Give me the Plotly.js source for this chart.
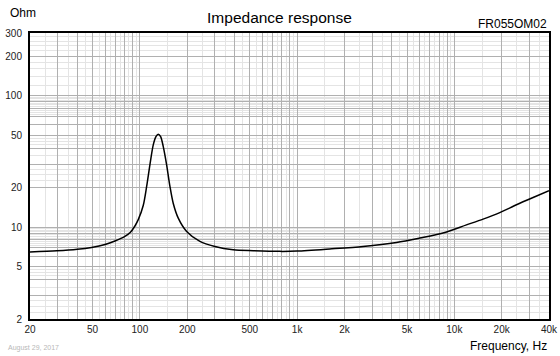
<!DOCTYPE html>
<html>
<head>
<meta charset="utf-8">
<script src="https://cdn.plot.ly/plotly-3.0.1.min.js"></script>
<style>
  html, body { margin: 0; padding: 0; background: #fff; }
  #chart { width: 560px; height: 356px; }
</style>
</head>
<body>
<div id="chart"></div>
<script>
// ---- data ----
var freqHz = [20, 29.6, 40, 49.3, 60, 69.4, 80.3, 86.8, 93, 97.6, 105, 110.4, 115.8, 121.6, 126.5, 130.8, 135.5, 140.8, 147.9, 155.3, 162.9, 175.4, 198.3, 240.9, 300, 392, 526, 776, 1000, 1615, 2630, 4287, 6026, 8474, 11940, 15230, 19450, 24840, 31700, 40000];
var impedanceOhm = [6.47, 6.6, 6.78, 7.01, 7.38, 7.85, 8.5, 9.1, 10.2, 11.4, 14.6, 20.4, 29.8, 42.3, 48.9, 51, 48.9, 41, 29.8, 20.4, 15.2, 11.7, 9.27, 7.79, 7.13, 6.73, 6.62, 6.54, 6.57, 6.82, 7.13, 7.65, 8.26, 9.02, 10.4, 11.5, 12.9, 14.8, 16.8, 18.9];

var xTickVals = [20, 30, 40, 50, 60, 70, 80, 90, 100, 200, 300, 400, 500, 600, 700, 800, 900, 1000, 2000, 3000, 4000, 5000, 6000, 7000, 8000, 9000, 10000, 20000, 30000, 40000];
var xTickText = ['20', '', '', '50', '', '', '', '', '100', '200', '', '', '500', '', '', '', '', '1k', '2k', '', '', '5k', '', '', '', '', '10k', '20k', '', '40k'];
var xMinorVals = [25, 35, 45, 55, 65, 75, 85, 95, 150, 250, 350, 450, 550, 650, 750, 850, 950, 1500, 2500, 3500, 4500, 5500, 6500, 7500, 8500, 9500, 15000, 25000, 35000];

var yTickVals = [2, 3, 4, 5, 6, 7, 8, 9, 10, 20, 30, 40, 50, 60, 70, 80, 90, 100, 200, 300];
var yTickText = ['2', '', '', '5', '', '', '', '', '10', '20', '', '', '50', '', '', '', '', '100', '200', '300'];
var yMinorVals = [2.25, 2.5, 2.75, 3.5, 4.25, 4.5, 4.75, 7.25, 7.5, 7.75, 8.25, 8.5, 8.75, 9.25, 9.5, 9.75,
                  22.5, 25, 27.5, 35, 42.5, 45, 47.5, 72.5, 75, 77.5, 82.5, 85, 87.5, 92.5, 95, 97.5,
                  120, 140, 160, 180, 220, 240, 260, 280];

var titleText = 'Impedance response';
var modelText = 'FR055OM02';
var yUnitText = 'Ohm';
var xUnitText = 'Frequency, Hz';
var dateText = 'August 29, 2017';

// ---- plot ----
var FONT = 'Liberation Sans, Arial, sans-serif';
var trace = {
  x: freqHz, y: impedanceOhm, type: 'scatter', mode: 'lines',
  line: { color: '#000000', width: 1.5, shape: 'spline', smoothing: 0.8 },
  hoverinfo: 'skip'
};

var layout = {
  width: 560, height: 356,
  margin: { l: 30, r: 11, t: 33, b: 37, pad: 0 },
  paper_bgcolor: '#ffffff', plot_bgcolor: '#ffffff',
  showlegend: false,
  font: { family: FONT, size: 10, color: '#222222' },
  title: { text: titleText, font: { family: FONT, size: 15.5, color: '#000000' },
           x: 0.499, xanchor: 'center', y: 0.951, yanchor: 'middle' },
  xaxis: {
    type: 'log', range: [Math.log10(20), Math.log10(40000)],
    tickmode: 'array', tickvals: xTickVals, ticktext: xTickText,
    ticks: '', showgrid: true, gridcolor: '#b0b0b0', gridwidth: 1,
    minor: { tickmode: 'array', tickvals: xMinorVals, showgrid: true, gridcolor: '#e4e4e4', gridwidth: 1, ticks: '' },
    showline: true, linecolor: '#000000', linewidth: 2, mirror: true,
    zeroline: false, tickfont: { family: FONT, size: 10, color: '#222' }
  },
  yaxis: {
    type: 'log', range: [Math.log10(2), Math.log10(300)],
    tickmode: 'array', tickvals: yTickVals, ticktext: yTickText,
    ticks: '', showgrid: true, gridcolor: '#b0b0b0', gridwidth: 1,
    minor: { tickmode: 'array', tickvals: yMinorVals, showgrid: true, gridcolor: '#e4e4e4', gridwidth: 1, ticks: '' },
    showline: true, linecolor: '#000000', linewidth: 2, mirror: true,
    zeroline: false, tickfont: { family: FONT, size: 10, color: '#222' }, ticklabelstandoff: 4
  },
  annotations: [
    { text: yUnitText, xref: 'paper', yref: 'paper', x: -0.0424, y: 1.0699, xanchor: 'left', yanchor: 'middle',
      showarrow: false, font: { family: FONT, size: 12, color: '#000' } },
    { text: modelText, xref: 'paper', yref: 'paper', x: 1.0, y: 1.0304, xanchor: 'right', yanchor: 'middle',
      showarrow: false, font: { family: FONT, size: 12, color: '#000' } },
    { text: xUnitText, xref: 'paper', yref: 'paper', x: 1.0, y: -0.0936, xanchor: 'right', yanchor: 'middle',
      showarrow: false, font: { family: FONT, size: 12, color: '#000' } },
    { text: dateText, xref: 'paper', yref: 'paper', x: -0.0462, y: -0.1013, xanchor: 'left', yanchor: 'middle',
      showarrow: false, font: { family: FONT, size: 7, color: '#b8b8b8' } }
  ]
};

Plotly.newPlot('chart', [trace], layout, { displayModeBar: false, staticPlot: true });
</script>
</body>
</html>
